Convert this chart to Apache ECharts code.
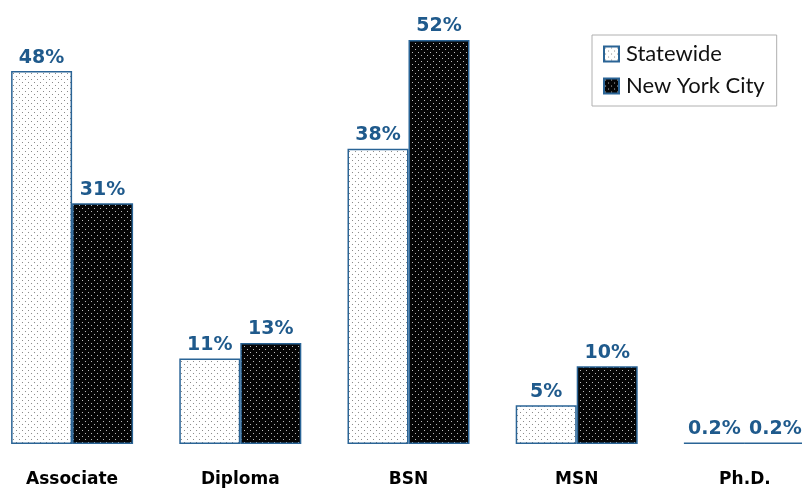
<!DOCTYPE html>
<html><head><meta charset="utf-8">
<script src="https://cdn.jsdelivr.net/npm/echarts@6/dist/echarts.min.js"></script>
<style>html,body{margin:0;padding:0;background:#fff}#c{width:802px;height:489px}</style>
</head><body><div id="c"></div>
<script>
const categories = ['Associate', 'Diploma', 'BSN', 'MSN', 'Ph.D.'];
const statewide = [48, 11, 38, 5, 0.2];
const nyc = [31, 13, 52, 10, 0.2];
const seriesNames = ['Statewide', 'New York City'];

function makePattern(bg, dot) {
  const c = document.createElement('canvas');
  c.width = 6; c.height = 6;
  const g = c.getContext('2d');
  g.fillStyle = bg; g.fillRect(0, 0, 6, 6);
  g.fillStyle = dot;
  g.fillRect(1, 1, 1, 1);
  g.fillRect(4, 4, 1, 1);
  return { image: c, repeat: 'repeat' };
}
const lightPat = makePattern('#ffffff', '#8a8a8a');
const darkPat = makePattern('#050505', '#bdbdbd');

const chart = echarts.init(document.getElementById('c'), null, { renderer: 'canvas' });
const labelStyle = {
  show: true, position: 'top', distance: 4,
  color: '#1f5a8c', fontFamily: 'DejaVu Sans, Verdana, sans-serif',
  fontWeight: 'bold', fontSize: 19,
  formatter: p => p.value + '%'
};
chart.setOption({
  animation: false,
  backgroundColor: '#fff',
  legend: {
    orient: 'vertical', left: 592, top: 35,
    padding: [8, 12, 9, 11],
    borderColor: '#b0b0b0', borderWidth: 1,
    itemWidth: 15, itemHeight: 15, itemGap: 10,
    icon: 'rect',
    textStyle: { fontFamily: 'Lato, Open Sans, sans-serif', fontSize: 22, color: '#111', padding: [0, 0, 0, 2] },
    data: seriesNames
  },
  grid: { left: -12, right: -27, top: 40, bottom: 45, outerBoundsMode: 'none', containLabel: false },
  xAxis: {
    type: 'category', data: categories,
    axisLine: { show: false }, axisTick: { show: false },
    axisLabel: { color: '#000', fontFamily: 'DejaVu Sans, Verdana, sans-serif', fontWeight: 'bold', fontSize: 17, margin: 27 }
  },
  yAxis: { type: 'value', min: 0, max: 52, show: false, splitLine: { show: false } },
  series: [
    {
      name: seriesNames[0], type: 'bar', data: statewide,
      barWidth: 61, barGap: '0%',
      itemStyle: { color: lightPat, borderColor: '#2a6496', borderWidth: 1.5 },
      label: labelStyle
    },
    {
      name: seriesNames[1], type: 'bar', data: nyc,
      barWidth: 61,
      itemStyle: { color: darkPat, borderColor: '#2a6496', borderWidth: 1.5 },
      label: labelStyle
    }
  ]
});
</script></body></html>
